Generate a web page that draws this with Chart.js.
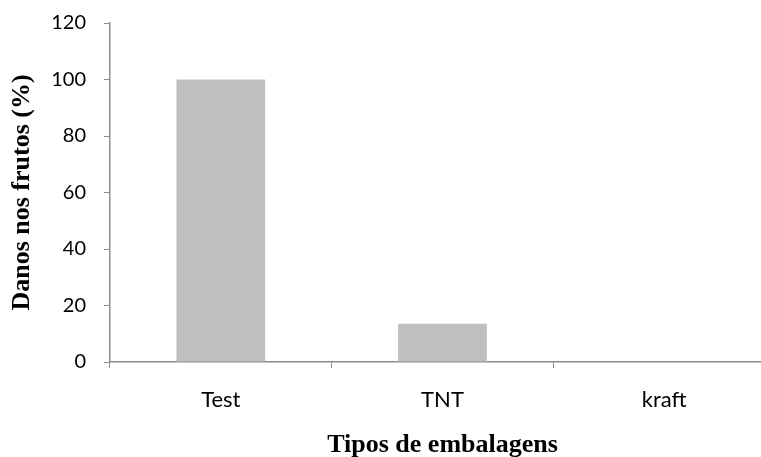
<!DOCTYPE html>
<html>
<head>
<meta charset="utf-8">
<script src="https://cdn.jsdelivr.net/npm/chart.js@4/dist/chart.umd.min.js"></script>
<style>
  html, body { margin: 0; padding: 0; background: #fff; overflow: hidden; }
  #wrap { width: 775px; height: 457px; }
</style>
</head>
<body>
<div id="wrap"><canvas id="c" width="775" height="457"></canvas></div>
<script>
// Packaging types and fruit damage (%)
const categories = ['Test', 'TNT', 'kraft'];
const damage = [100, 13.5, 0];
const yTicks = [0, 20, 40, 60, 80, 100, 120];

const axisGray = '#8c8c8c';
const sansFamily = 'Lato, "Open Sans", sans-serif';
const titleFont = { family: '"Liberation Serif", "DejaVu Serif", serif', size: 26, weight: 'bold' };

new Chart(document.getElementById('c'), {
  type: 'bar',
  data: {
    labels: categories,
    datasets: [{
      data: damage,
      backgroundColor: '#bfbfbf',
      borderWidth: 0,
      barPercentage: 0.4,
      categoryPercentage: 1
    }]
  },
  options: {
    responsive: false,
    animation: false,
    devicePixelRatio: 1,
    layout: { padding: { top: 23, right: 0, bottom: 0, left: 0 } },
    plugins: { legend: { display: false }, tooltip: { enabled: false } },
    scales: {
      x: {
        offset: true,
        grid: { display: true, drawOnChartArea: false, drawTicks: true, tickLength: 6, color: axisGray, offset: true },
        border: { color: axisGray, width: 1.5 },
        ticks: { color: '#000', font: { family: sansFamily, size: 22 }, padding: 19 },
        title: { display: true, text: 'Tipos de embalagens', color: '#000', font: titleFont, padding: { top: 0, bottom: -4 } },
        afterFit: s => { s.height = 95; s.paddingLeft = 0; s.paddingRight = 0; }
      },
      y: {
        min: 0,
        max: 120,
        afterBuildTicks: s => { s.ticks = yTicks.map(v => ({ value: v })); },
        grid: { display: true, drawOnChartArea: false, drawTicks: true, tickLength: 6, color: axisGray },
        border: { color: axisGray, width: 1.5 },
        ticks: { color: '#000', font: { family: sansFamily, size: 20 }, padding: 18 },
        title: { display: true, text: 'Danos nos frutos (%)', color: '#000', font: titleFont, padding: { top: 7, bottom: 0 } },
        afterFit: s => { s.width = 110; s.paddingTop = 0; s.paddingBottom = 0; }
      }
    }
  }
});
</script>
</body>
</html>
